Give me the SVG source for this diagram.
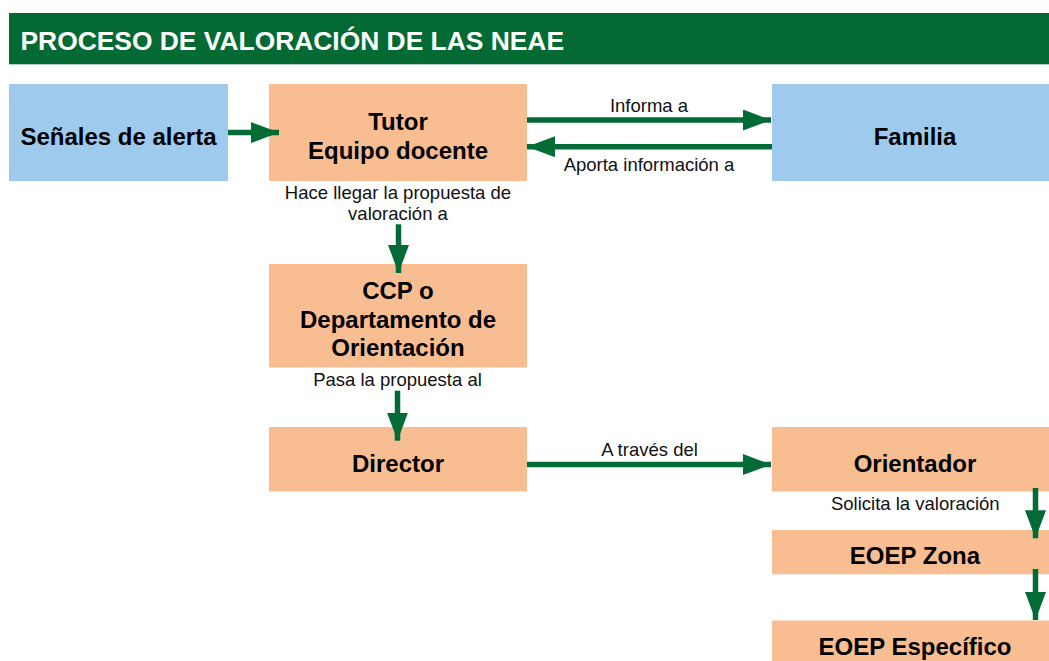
<svg xmlns="http://www.w3.org/2000/svg" width="1049" height="661" viewBox="0 0 1049 661">
  <style>
    .blue { fill: #9ECAEE; }
    .orange { fill: #F8BE92; }
    .node-text { font-family: "Liberation Sans", Arial, sans-serif; font-weight: bold; font-size: 24px; fill: #000; text-anchor: middle; }
    .label { font-family: "Liberation Sans", Arial, sans-serif; font-size: 18.5px; fill: #111; text-anchor: middle; }
    .title { font-family: "Liberation Sans", Arial, sans-serif; font-weight: bold; font-size: 26.4px; fill: #fff; }
    .conn { stroke: #036B36; stroke-width: 5.5; fill: none; marker-end: url(#head); }
  </style>
  <defs>
    <marker id="head" markerUnits="userSpaceOnUse" markerWidth="28" markerHeight="21" refX="28" refY="10.5" orient="auto" viewBox="0 0 28 21">
      <path d="M0,0 L28,10.5 L0,21 Z" fill="#036B36"/>
    </marker>
  </defs>

  <g id="header">
    <rect x="9" y="13" width="1040" height="51.3" fill="#046A34"/>
    <text class="title" x="20.5" y="50">PROCESO DE VALORACIÓN DE LAS NEAE</text>
  </g>

  <g id="senales">
    <rect class="blue" x="9" y="84" width="219" height="97"/>
    <text class="node-text" x="118.5" y="144.5">Señales de alerta</text>
  </g>

  <g id="tutor">
    <rect class="orange" x="269" y="84" width="258" height="97"/>
    <text class="node-text" x="398" y="130">Tutor</text>
    <text class="node-text" x="398" y="158.5">Equipo docente</text>
  </g>

  <g id="familia">
    <rect class="blue" x="772" y="84" width="277" height="97"/>
    <text class="node-text" x="915" y="144.5">Familia</text>
  </g>

  <g id="ccp">
    <rect class="orange" x="269" y="264" width="258" height="103.5"/>
    <text class="node-text" x="398" y="299">CCP o</text>
    <text class="node-text" x="398" y="327.5">Departamento de</text>
    <text class="node-text" x="398" y="356">Orientación</text>
  </g>

  <g id="director">
    <rect class="orange" x="269" y="427" width="258" height="64.5"/>
    <text class="node-text" x="398" y="471.5">Director</text>
  </g>

  <g id="orientador">
    <rect class="orange" x="772" y="427" width="277" height="64.5"/>
    <text class="node-text" x="915" y="471.5">Orientador</text>
  </g>

  <g id="eoep-zona">
    <rect class="orange" x="772" y="530" width="277" height="44.3"/>
    <text class="node-text" x="915" y="563.5">EOEP Zona</text>
  </g>

  <g id="eoep-especifico">
    <rect class="orange" x="772" y="620.5" width="277" height="45"/>
    <text class="node-text" x="915" y="654.5">EOEP Específico</text>
  </g>

  <g id="connectors">
    <line class="conn" x1="228" y1="132.5" x2="279" y2="132.5"/>
    <line class="conn" x1="527" y1="120" x2="771" y2="120"/>
    <line class="conn" x1="772" y1="146.7" x2="527" y2="146.7"/>
    <line class="conn" x1="398.5" y1="224.3" x2="398.5" y2="273"/>
    <line class="conn" x1="397.5" y1="390.7" x2="397.5" y2="440.7"/>
    <line class="conn" x1="527" y1="464.5" x2="771" y2="464.5"/>
    <line class="conn" x1="1035.5" y1="488" x2="1035.5" y2="538.3"/>
    <line class="conn" x1="1035.5" y1="569" x2="1035.5" y2="620"/>

    <text class="label" x="649" y="112">Informa a</text>
    <text class="label" x="649" y="171">Aporta información a</text>
    <text class="label" x="398" y="199">Hace llegar la propuesta de</text>
    <text class="label" x="398" y="220">valoración a</text>
    <text class="label" x="397.5" y="386">Pasa la propuesta al</text>
    <text class="label" x="649.5" y="456">A través del</text>
    <text class="label" x="915.3" y="510">Solicita la valoración</text>
  </g>
</svg>
